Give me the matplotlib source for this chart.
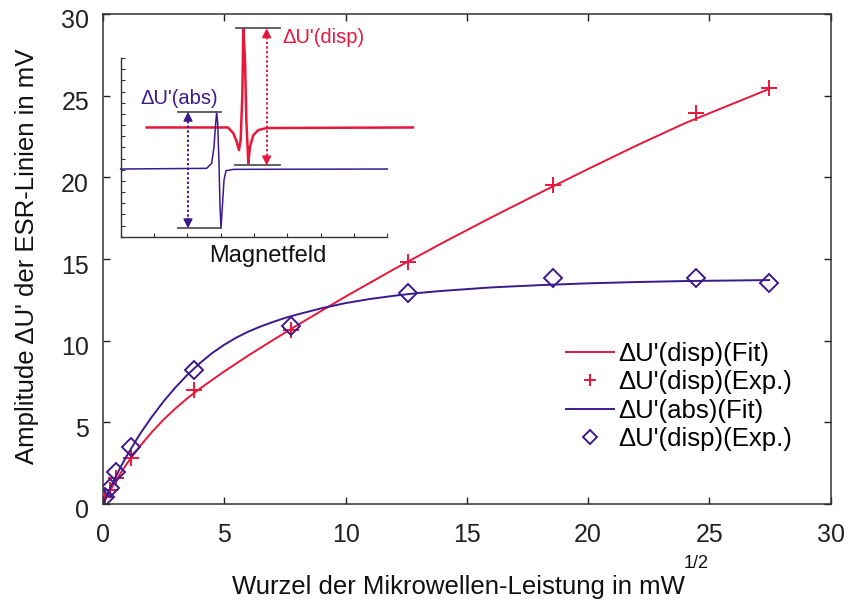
import matplotlib
matplotlib.use("Agg")
import matplotlib.pyplot as plt
from matplotlib.transforms import ScaledTranslation

plt.rcParams['font.family'] = ['Liberation Sans', 'DejaVu Sans']

# ---------------- data ----------------
x_exp = [0.08, 0.27, 0.53, 1.15, 3.75, 7.74, 12.56, 18.56, 24.44, 27.46]
disp_exp = [0.45, 0.86, 1.57, 2.83, 6.98, 10.66, 14.84, 19.53, 23.92, 25.46]
abs_exp = [0.41, 0.96, 1.98, 3.47, 8.21, 10.9, 12.9, 13.82, 13.82, 13.55]

x_disp_fit = [0, 0.25, 0.5, 0.75, 1, 1.5, 2, 2.5, 3, 3.5, 4, 5, 6, 7, 8, 10,
              12, 14, 16, 18, 20, 22, 24, 27.46]
y_disp_fit = [0, 0.7, 1.35, 1.95, 2.5, 3.5, 4.38, 5.17, 5.87, 6.5, 7.07, 8.12,
              9.1, 10.03, 10.94, 12.7, 14.38, 15.99, 17.54, 19.04, 20.51,
              21.95, 23.32, 25.41]
x_abs_fit = [0, 0.25, 0.5, 0.75, 1, 1.5, 2, 2.5, 3, 3.5, 4, 4.5, 5, 5.5, 6,
             6.5, 7, 7.5, 8, 9, 10, 11, 12, 13, 14, 16, 18, 20, 22, 24, 27.46]
y_abs_fit = [0, 0.83, 1.6, 2.33, 3.0, 4.23, 5.31, 6.29, 7.16, 7.94, 8.63, 9.24,
             9.75, 10.19, 10.56, 10.87, 11.14, 11.39, 11.6, 11.98, 12.3, 12.55,
             12.75, 12.92, 13.05, 13.26, 13.4, 13.51, 13.59, 13.65, 13.71]

x_ticks = [0, 5, 10, 15, 20, 25, 30]
y_ticks = [0, 5, 10, 15, 20, 25, 30]

# inset spectra (schematic traces)
abs_trace_x = [0, 2.58, 2.73, 2.80, 2.85, 2.88, 2.91, 2.95, 2.98, 3.01, 3.05,
               3.10, 3.16, 3.38, 8]
abs_trace_y = [6.06, 6.12, 6.57, 8.06, 10.15, 11.19, 10.15, 6.57, 2.69, 0.75,
               2.69, 5.08, 5.91, 6.03, 6.06]
disp_trace_x = [0.78, 3.22, 3.38, 3.48, 3.55, 3.60, 3.65, 3.68, 3.73, 3.77,
                3.83, 3.88, 3.98, 4.13, 4.38, 8.77]
disp_trace_y = [9.78, 9.78, 9.26, 8.5, 7.76, 8.66, 12.69, 18.66, 15.82, 10.45,
                6.57, 8.06, 9.1, 9.55, 9.73, 9.78]

RED = '#e8173a'
BLUE = '#3b1a8e'
GRAY = '#555555'

fig = plt.figure(figsize=(8.48, 6.03), dpi=100)
W, H = 848, 603


def fx(px):
    return px / W


def fy(py):
    return 1 - py / H


ax = fig.add_axes([fx(103), fy(504), (830.7 - 103) / W, (504 - 14) / H])

l1, = ax.plot(x_disp_fit, y_disp_fit, color=RED, lw=1.4)
p1, = ax.plot(x_exp, disp_exp, ls='none', marker='+', ms=12, mew=1.4, color=RED)
l2, = ax.plot(x_abs_fit, y_abs_fit, color=BLUE, lw=1.4)
p2, = ax.plot(x_exp, abs_exp, ls='none', marker='D', ms=9, mew=1.4,
              mfc='none', mec=BLUE)

ax.set_xlim(0, 30)
ax.set_ylim(0, 30)
ax.set_xticks(x_ticks)
ax.set_yticks(y_ticks)
ax.tick_params(direction='in', length=5, width=1, top=True, right=True,
               labelsize=18, colors='#222222', pad=10)
ax.tick_params(axis='x', pad=14)
for sp in ax.spines.values():
    sp.set_color('#333333')
    sp.set_linewidth(1.1)
for lab in ax.get_yticklabels():
    lab.set_transform(lab.get_transform() + ScaledTranslation(0, -5 / 100, fig.dpi_scale_trans))

leg = ax.legend([l1, p1, l2, p2],
                ["\u0394U'(disp)(Fit)", "\u0394U'(disp)(Exp.)",
                 "\u0394U'(abs)(Fit)", "\u0394U'(disp)(Exp.)"],
                loc='upper left', bbox_to_anchor=(fx(566), fy(342)),
                bbox_transform=fig.transFigure, frameon=False, fontsize=18.5,
                handlelength=1.85, handletextpad=0.2, labelspacing=0.17,
                borderaxespad=0, borderpad=0, markerscale=0.75)

fig.text(fx(231.7), fy(594), "Wurzel der Mikrowellen-Leistung in mW",
         fontsize=18.5, ha='left', va='baseline', color='#111111')
fig.text(fx(684), fy(568), "1/2", fontsize=13, ha='left', va='baseline',
         color='#111111')
fig.text(fx(27), fy(256), "Amplitude \u0394U' der ESR-Linien in mV",
         fontsize=18.5, rotation=90, ha='center', va='center', color='#111111')

# ---------------- inset ----------------
axi = fig.add_axes([fx(120.7), fy(236.7), (387.3 - 120.7) / W, (236.7 - 58) / H])
axi.set_xlim(0, 8)
axi.set_ylim(0, 16)
axi.patch.set_alpha(0)
axi.spines['top'].set_visible(False)
axi.spines['right'].set_visible(False)
for s in ('left', 'bottom'):
    axi.spines[s].set_color('#333333')
    axi.spines[s].set_linewidth(1.0)
axi.set_xticks(range(0, 9))
axi.set_yticks(range(0, 17))
axi.tick_params(direction='in', length=3, width=0.8, labelbottom=False,
                labelleft=False, colors='#333333')

axi.plot(disp_trace_x, disp_trace_y, color=RED, lw=1.8, clip_on=False)
axi.plot(abs_trace_x, abs_trace_y, color=BLUE, lw=1.1, clip_on=False)

# reference lines
axi.plot([1.72, 3.01], [11.19, 11.19], color=GRAY, lw=1.3, clip_on=False)
axi.plot([1.72, 3.02], [0.75, 0.75], color=GRAY, lw=1.3, clip_on=False)
axi.plot([3.46, 4.78], [18.66, 18.66], color=GRAY, lw=1.3, clip_on=False)
axi.plot([3.43, 4.78], [6.38, 6.38], color=GRAY, lw=1.3, clip_on=False)


def darrow(x, y0, y1, color):
    axi.plot([x, x], [y0 - 0.8, y1 + 0.8], color=color, lw=1.4, ls=(0, (1.2, 1.2)),
             clip_on=False)
    for a, b in ((y0 - 0.9, y0), (y1 + 0.9, y1)):
        axi.annotate('', xy=(x, b), xytext=(x, a), annotation_clip=False,
                     arrowprops=dict(arrowstyle='-|>', color=color, lw=1.0,
                                     mutation_scale=14, shrinkA=0, shrinkB=0))


darrow(2.02, 11.19, 0.75, BLUE)
darrow(4.38, 18.66, 6.38, RED)

axi.text(4.84, 17.8, "\u0394U'(disp)", color=RED, fontsize=14.5, ha='left',
         va='center', clip_on=False)
axi.text(0.58, 12.4, "\u0394U'(abs)", color=BLUE, fontsize=14.5, ha='left',
         va='center', clip_on=False)
fig.text(fx(268), fy(261.5), "Magnetfeld", fontsize=17, ha='center',
         va='baseline', color='#111111')

fig.savefig('out.png', dpi=100)
